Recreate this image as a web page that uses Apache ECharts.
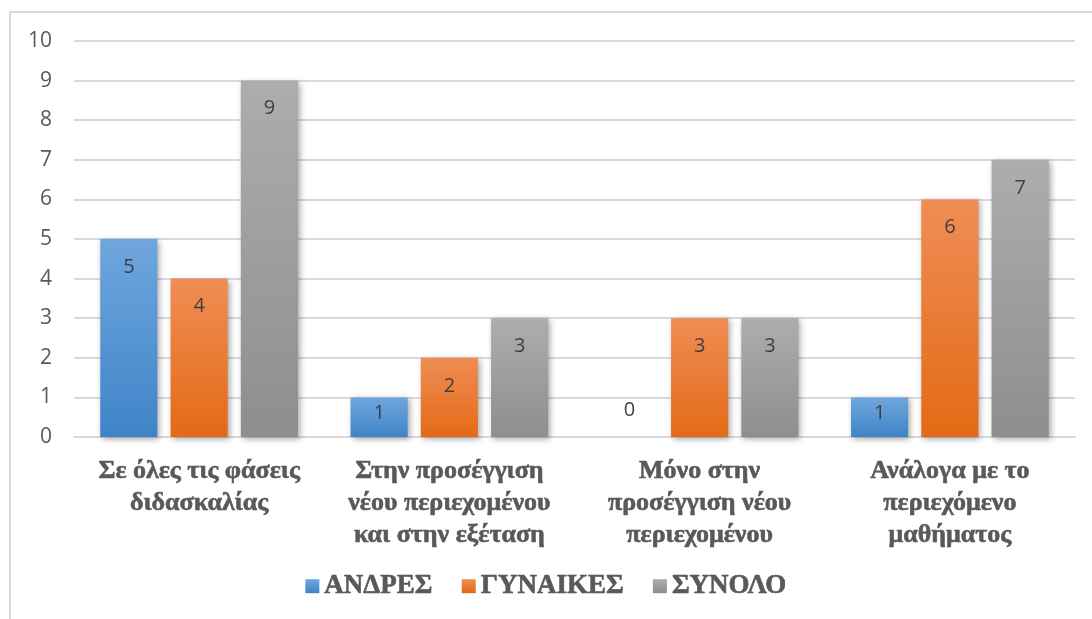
<!DOCTYPE html>
<html>
<head>
<meta charset="utf-8">
<script src="https://cdn.jsdelivr.net/npm/echarts@6/dist/echarts.min.js"></script>
<style>
  html, body { margin: 0; padding: 0; background: #fff; }
  #chart { width: 1092px; height: 619px; }
</style>
</head>
<body>
<div id="chart"></div>
<script>
// Categories and series values
const categories = [
  'Σε όλες τις φάσεις\nδιδασκαλίας',
  'Στην προσέγγιση\nνέου περιεχομένου\nκαι στην εξέταση',
  'Μόνο στην\nπροσέγγιση νέου\nπεριεχομένου',
  'Ανάλογα με το\nπεριεχόμενο\nμαθήματος'
];
const men = [5, 1, 0, 1];
const women = [4, 2, 3, 6];
const total = [9, 3, 3, 7];
const seriesNames = ['ΑΝΔΡΕΣ', 'ΓΥΝΑΙΚΕΣ', 'ΣΥΝΟΛΟ'];

const chart = echarts.init(document.getElementById('chart'));

function grad(top, bottom) {
  return new echarts.graphic.LinearGradient(0, 0, 0, 1, [
    { offset: 0, color: top },
    { offset: 1, color: bottom }
  ]);
}

// Label placement: near the bar end when there is room, centred on short bars,
// above the axis for empty bars.
function withLabels(values) {
  return values.map(v => {
    let label;
    if (v === 0) label = { position: 'top', distance: 17 };
    else if (v < 2) label = { position: 'inside', offset: [0, -4] };
    else label = { position: 'insideTop', distance: 18 };
    return { value: v, label };
  });
}

const labelStyle = {
  show: true,
  color: '#404040',
  fontFamily: 'Open Sans',
  fontSize: 20
};

const barShadow = {
  shadowBlur: 6,
  shadowOffsetX: 2,
  shadowOffsetY: 2,
  shadowColor: 'rgba(0,0,0,0.35)'
};

function makeSeries(name, values, top, bottom) {
  return {
    name,
    type: 'bar',
    data: withLabels(values),
    barGap: '23%',
    barCategoryGap: '21%',
    itemStyle: Object.assign({ color: grad(top, bottom) }, barShadow),
    label: labelStyle
  };
}

const serifBold = {
  fontFamily: 'Liberation Serif',
  fontWeight: 'bold',
  color: '#595959',
  textBorderColor: '#595959',
  textBorderWidth: 0.6
};

chart.setOption({
  animation: false,
  backgroundColor: '#fff',
  graphic: [{
    type: 'rect',
    shape: { x: 10, y: 12, width: 1200, height: 700 },
    style: { fill: 'none', stroke: '#d9d9d9', lineWidth: 2 },
    silent: true,
    z: -10
  }],
  grid: { left: 74, right: 17, top: 41, bottom: 182, containLabel: false },
  legend: {
    bottom: 14,
    left: 'center',
    itemWidth: 14,
    itemHeight: 14,
    itemGap: 29,
    icon: 'rect',
    textStyle: Object.assign({ fontSize: 27 }, serifBold),
    data: seriesNames
  },
  xAxis: {
    type: 'category',
    data: categories,
    axisTick: { show: false },
    axisLine: { show: true, lineStyle: { color: '#d9d9d9', width: 2 } },
    axisLabel: Object.assign({
      margin: 18,
      interval: 0,
      fontSize: 26,
      lineHeight: 32
    }, serifBold)
  },
  yAxis: {
    type: 'value',
    min: 0,
    max: 10,
    interval: 1,
    axisLine: { show: false },
    axisTick: { show: false },
    splitLine: { lineStyle: { color: '#d9d9d9', width: 2 } },
    axisLabel: {
      margin: 22,
      fontFamily: 'Open Sans',
      fontSize: 21,
      color: '#595959'
    }
  },
  series: [
    makeSeries(seriesNames[0], men, '#6FA6DE', '#3F84C8'),
    makeSeries(seriesNames[1], women, '#F08D55', '#E36A15'),
    makeSeries(seriesNames[2], total, '#ADADAD', '#8E8E8E')
  ]
});
</script>
</body>
</html>
